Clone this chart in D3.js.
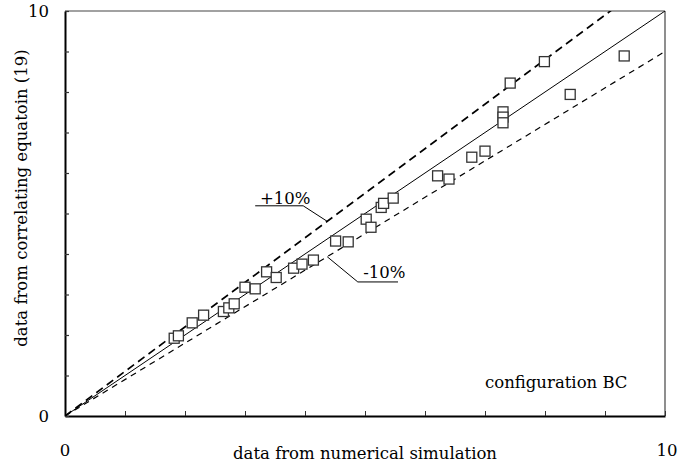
<!DOCTYPE html>
<html>
<head>
<meta charset="utf-8">
<script src="https://cdn.jsdelivr.net/npm/d3@7"></script>
<style>
body { margin: 0; background: #fff; }
text { font-family: "Palatino Linotype", "Book Antiqua", Palatino, "DejaVu Serif", serif; fill: #000; }
</style>
</head>
<body>
<div id="chart"></div>
<script>
// numerical simulation (x) vs correlating equation (y)
var simX = [1.82, 1.89, 2.12, 2.31, 2.64, 2.73, 2.82, 3.00, 3.17, 3.36, 3.52,
    3.81, 3.95, 4.14, 4.51, 4.72, 5.02, 5.10, 5.27, 5.31, 5.47,
    6.21, 6.40, 6.78, 7.00, 7.30, 7.30, 7.30, 7.42, 7.99, 8.42, 9.32];
var corrY = [1.92, 1.98, 2.30, 2.49, 2.58, 2.67, 2.77, 3.18, 3.14, 3.56, 3.42,
    3.65, 3.75, 3.85, 4.32, 4.30, 4.86, 4.66, 5.15, 5.25, 5.38,
    5.93, 5.85, 6.39, 6.54, 7.51, 7.38, 7.24, 8.22, 8.75, 7.94, 8.89];
var bandFactors = [1.0, 1.1, 0.9];
var bandLabels = ["+10%", "-10%"];
var axisMin = 0, axisMax = 10;

var w = 693, h = 465;
var mLeft = 65, mRight = 665, mTop = 11, mBottom = 416;
var fs = "16.5px";

var svg = d3.select("#chart").append("svg")
    .attr("width", w).attr("height", h);

var xScale = d3.scaleLinear().domain([axisMin, axisMax]).range([mLeft, mRight]);
var yScale = d3.scaleLinear().domain([axisMin, axisMax]).range([mBottom, mTop]);

svg.append("defs").append("clipPath").attr("id", "plot")
    .append("rect").attr("x", mLeft).attr("y", mTop)
    .attr("width", mRight - mLeft).attr("height", mBottom - mTop);

// frame: top and right thin
svg.append("line").attr("x1", mLeft).attr("x2", mRight).attr("y1", mTop).attr("y2", mTop)
    .attr("stroke", "#444").attr("stroke-width", 1.2);
svg.append("line").attr("x1", mRight).attr("x2", mRight).attr("y1", mTop).attr("y2", mBottom)
    .attr("stroke", "#444").attr("stroke-width", 1.2);

// axes with inward ticks
var ticks = d3.range(axisMin, axisMax + 1, 1);
svg.append("g").attr("transform", "translate(0," + mBottom + ")")
    .call(d3.axisBottom(xScale).tickValues(ticks).tickSize(-5).tickSizeOuter(0).tickFormat(""))
    .call(function(g) {
        g.select(".domain").attr("stroke", "#000").attr("stroke-width", 2);
        g.selectAll(".tick line").attr("stroke", "#333").attr("stroke-width", 1);
    });
svg.append("g").attr("transform", "translate(" + mLeft + ",0)")
    .call(d3.axisLeft(yScale).tickValues(ticks).tickSize(-4).tickSizeOuter(0).tickFormat(""))
    .call(function(g) {
        g.select(".domain").attr("stroke", "#000").attr("stroke-width", 2);
        g.selectAll(".tick line").attr("stroke", "#333").attr("stroke-width", 1.2);
    });

// end labels
svg.append("text").attr("x", mLeft - 16).attr("y", yScale(axisMax)).attr("dy", "0.35em")
    .attr("text-anchor", "end").style("font-size", fs).text(axisMax);
svg.append("text").attr("x", mLeft - 16).attr("y", yScale(axisMin)).attr("dy", "0.35em")
    .attr("text-anchor", "end").style("font-size", fs).text(axisMin);
svg.append("text").attr("x", xScale(axisMin)).attr("y", 456)
    .attr("text-anchor", "middle").style("font-size", fs).text(axisMin);
svg.append("text").attr("x", xScale(axisMax) + 2).attr("y", 456)
    .attr("text-anchor", "middle").style("font-size", fs).text(axisMax);

svg.append("text").attr("x", 365).attr("y", 459)
    .attr("text-anchor", "middle").style("font-size", fs)
    .text("data from numerical simulation");
svg.append("text").attr("transform", "translate(27,198) rotate(-90)")
    .attr("text-anchor", "middle").style("font-size", fs)
    .text("data from correlating equatoin (19)");

// y = x and +-10% lines
var plot = svg.append("g").attr("clip-path", "url(#plot)");
var styles = [
    {dash: null, width: 1},
    {dash: "8,5", width: 1.6},
    {dash: "6,5", width: 1.2}
];
bandFactors.forEach(function(f, i) {
    var line = d3.line()
        .x(function(d) { return xScale(d); })
        .y(function(d) { return yScale(d * f); });
    plot.append("path").datum([axisMin, axisMax])
        .attr("d", line)
        .attr("fill", "none")
        .attr("stroke", "#000")
        .attr("stroke-width", styles[i].width)
        .attr("stroke-dasharray", styles[i].dash);
});

// points
var pts = simX.map(function(x, i) { return {x: x, y: corrY[i]}; });
var s = 10;
svg.append("g").selectAll("rect").data(pts).enter().append("rect")
    .attr("x", function(d) { return xScale(d.x) - s / 2; })
    .attr("y", function(d) { return yScale(d.y) - s / 2; })
    .attr("width", s).attr("height", s)
    .attr("fill", "#fff").attr("stroke", "#333").attr("stroke-width", 1.3);

// leaders to the band lines
var leaderPlus = [[3.17, 5.19], [3.97, 5.19], [4.37, 4.37 * bandFactors[1]]];
var leaderMinus = [[4.37, 4.37 * bandFactors[2]], [4.88, 3.31], [5.55, 3.31]];
var leader = d3.line()
    .x(function(d) { return xScale(d[0]); })
    .y(function(d) { return yScale(d[1]); });
[leaderPlus, leaderMinus].forEach(function(p) {
    svg.append("path").datum(p).attr("d", leader)
        .attr("fill", "none").attr("stroke", "#000").attr("stroke-width", 1);
});
svg.append("text").attr("x", xScale(3.25)).attr("y", yScale(5.24))
    .style("font-size", fs).text(bandLabels[0]);
svg.append("text").attr("x", xScale(4.97)).attr("y", yScale(3.41))
    .style("font-size", fs).text(bandLabels[1]);

svg.append("text").attr("x", xScale(7.0)).attr("y", yScale(0.69))
    .style("font-size", fs).text("configuration BC");
</script>
</body>
</html>
